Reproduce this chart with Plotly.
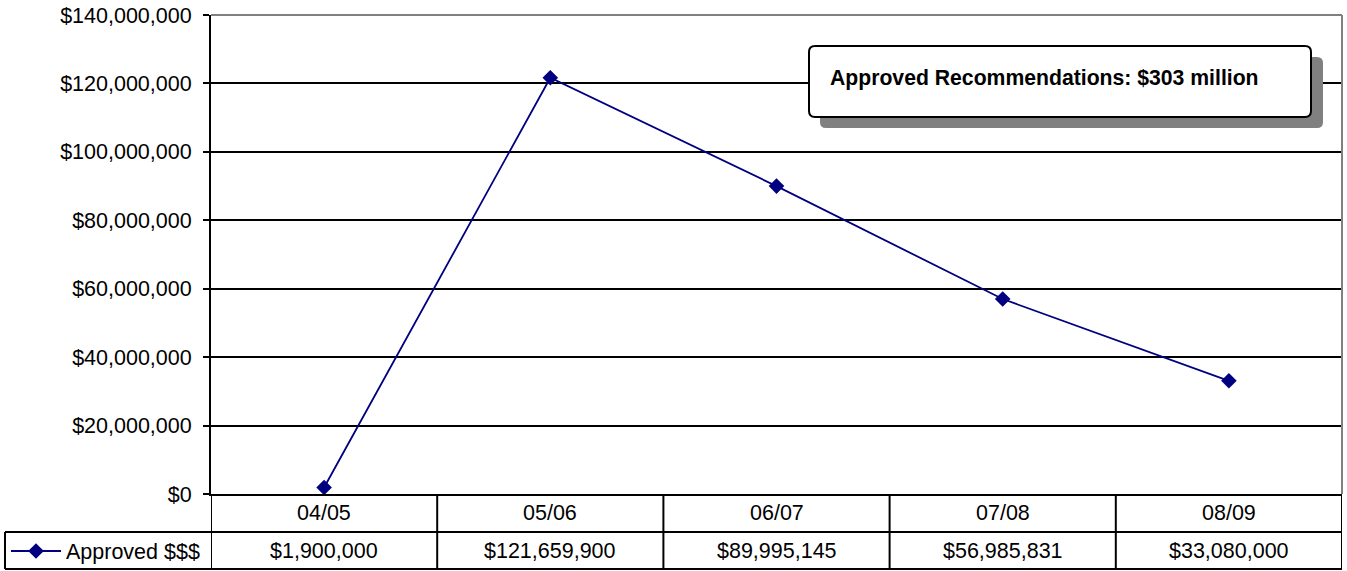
import plotly.graph_objects as go

# data
years = ["04/05", "05/06", "06/07", "07/08", "08/09"]
approved = [1900000, 121659900, 89995145, 56985831, 33080000]
series_name = "Approved $$$"
y_ticks = [0, 20000000, 40000000, 60000000, 80000000, 100000000, 120000000, 140000000]
note = "Approved Recommendations: $303 million"

NAVY = "#000080"
FONT = "Liberation Sans, Arial, sans-serif"
FS = 21.5

W, H = 1347, 571
L, R, T, B = 211, 5, 15, 77
PW, PH = W - L - R, H - T - B


def px(x):
    # pixel column -> paper x
    return (x - L) / PW


def py(y):
    # pixel row -> paper y
    return (H - B - y) / PH


def rounded(x0, y0, x1, y1, r=6):
    """Rounded rectangle path in paper coords from pixel corners"""
    pts = [
        f"M {px(x0 + r)},{py(y0)}",
        f"L {px(x1 - r)},{py(y0)}",
        f"Q {px(x1)},{py(y0)} {px(x1)},{py(y0 + r)}",
        f"L {px(x1)},{py(y1 - r)}",
        f"Q {px(x1)},{py(y1)} {px(x1 - r)},{py(y1)}",
        f"L {px(x0 + r)},{py(y1)}",
        f"Q {px(x0)},{py(y1)} {px(x0)},{py(y1 - r)}",
        f"L {px(x0)},{py(y0 + r)}",
        f"Q {px(x0)},{py(y0)} {px(x0 + r)},{py(y0)}",
        "Z",
    ]
    return " ".join(pts)


fig = go.Figure()
fig.add_trace(
    go.Scatter(
        x=list(range(len(years))),
        y=approved,
        mode="lines+markers",
        name=series_name,
        line=dict(color=NAVY, width=1.8),
        marker=dict(symbol="diamond", size=12, color=NAVY),
    )
)

shapes = []
line_k = dict(color="black", width=2)

# plot border top/right in gray
shapes.append(dict(type="line", xref="paper", yref="paper", x0=0, x1=1, y0=1, y1=1,
                   line=dict(color="#808080", width=2)))
shapes.append(dict(type="line", xref="paper", yref="paper", x0=1, x1=1, y0=0, y1=1,
                   line=dict(color="#808080", width=2)))

# data table grid
row1, row2 = py(532), py(569)
shapes.append(dict(type="line", xref="paper", yref="paper", x0=px(5), x1=1, y0=row1, y1=row1, line=line_k))
shapes.append(dict(type="line", xref="paper", yref="paper", x0=px(5), x1=1, y0=row2, y1=row2, line=line_k))
shapes.append(dict(type="line", xref="paper", yref="paper", x0=px(5), x1=px(5), y0=row2, y1=row1, line=line_k))
for i in range(len(years) + 1):
    shapes.append(dict(type="line", xref="x", yref="paper", x0=i - 0.5, x1=i - 0.5,
                       y0=row2, y1=0, line=line_k))

# note box with shadow
shapes.append(dict(type="path", xref="paper", yref="paper", path=rounded(820, 57, 1323, 128),
                   fillcolor="#808080", line=dict(color="#808080", width=0)))
shapes.append(dict(type="path", xref="paper", yref="paper", path=rounded(809, 46, 1311, 117),
                   fillcolor="white", line=dict(color="black", width=2)))

annotations = []
for i, (yr, v) in enumerate(zip(years, approved)):
    annotations.append(dict(x=i, y=py(513), xref="x", yref="paper", text=yr, showarrow=False,
                            yanchor="middle", font=dict(size=FS, color="black")))
    annotations.append(dict(x=i, y=py(551), xref="x", yref="paper", text=f"${v:,.0f}",
                            showarrow=False, yanchor="middle", font=dict(size=FS, color="black")))
annotations.append(dict(x=px(828), y=py(78), xref="paper", yref="paper", text=f"<b>{note}</b>",
                        showarrow=False, xanchor="left", yanchor="middle",
                        font=dict(size=21.2, color="black")))

fig.update_layout(
    width=W,
    height=H,
    margin=dict(l=L, r=R, t=T, b=B, autoexpand=False),
    paper_bgcolor="white",
    plot_bgcolor="white",
    font=dict(family=FONT, size=FS, color="black"),
    showlegend=True,
    legend=dict(x=6 / W, y=(H - 551) / H, xref="container", yref="container",
                xanchor="left", yanchor="middle", bgcolor="rgba(0,0,0,0)",
                font=dict(size=FS), itemwidth=50),
    shapes=shapes,
    annotations=annotations,
    xaxis=dict(range=[-0.5, len(years) - 0.5], showticklabels=False, showgrid=False,
               zeroline=False, showline=True, linecolor="black", linewidth=2, ticks=""),
    yaxis=dict(range=[0, 140000000], tickvals=y_ticks,
               ticktext=[f"${t:,.0f}" for t in y_ticks],
               showgrid=True, gridcolor="black", gridwidth=2, zeroline=False,
               showline=True, linecolor="black", linewidth=2,
               ticks="outside", ticklen=6, tickcolor="black", tickwidth=2,
               ticklabelstandoff=7, tickfont=dict(size=FS)),
)

fig.write_html("out.html", config={"displayModeBar": False},
               post_script="document.body.style.margin='0px';")
